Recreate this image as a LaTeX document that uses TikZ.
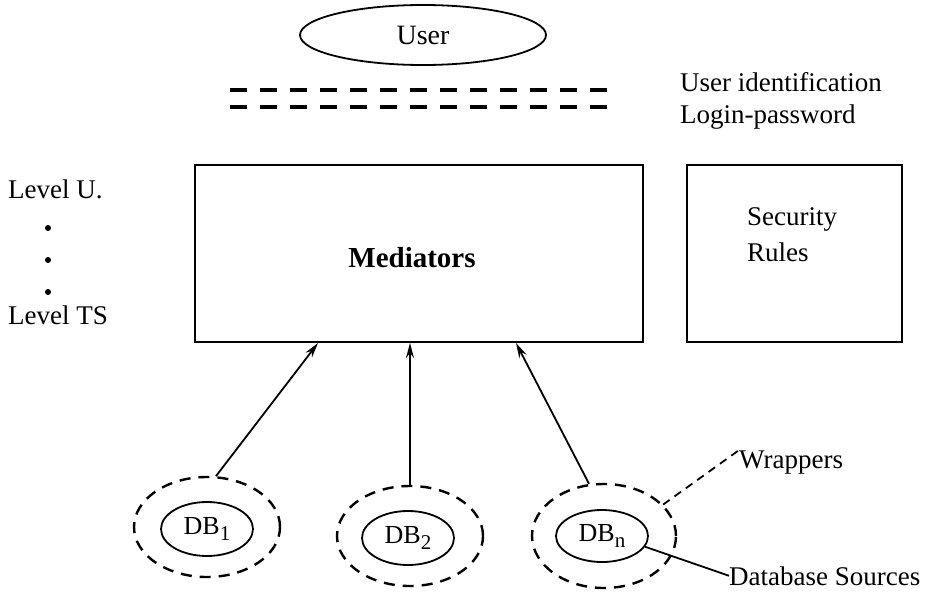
\documentclass[tikz,border=0pt]{standalone}
\usepackage{fontspec}
\setmainfont{Liberation Serif}
\usetikzlibrary{shapes.geometric,arrows.meta,calc}
\newcommand{\dbsub}[1]{\raisebox{-6pt}{\fontsize{21}{21}\selectfont #1}}
\tikzset{
  txt/.style={inner sep=0pt, anchor=base west, font=\fontsize{27}{32}\selectfont},
  box/.style={draw, line width=2pt, rectangle, inner sep=0pt},
  wrapper/.style={draw, ellipse, dash pattern=on 11pt off 8pt, line width=2.4pt, inner sep=0pt, minimum width=146pt, minimum height=100pt},
  dbsrc/.style={draw, ellipse, line width=1.8pt, inner sep=0pt, minimum width=92pt, minimum height=54pt, font=\fontsize{26}{30}\selectfont},
  arr/.style={line width=1.8pt, -{Stealth[length=15pt,width=8pt]}},
  lnk/.style={line width=1.8pt},
  dots/.style={circle, fill, inner sep=0pt, minimum size=6pt},
  dbl/.style={line width=4pt, dash pattern=on 17pt off 13pt}
}
\begin{document}
\begin{tikzpicture}[x=1pt,y=-1pt]
\useasboundingbox (0,0) rectangle (933,591);
% User
\node[draw, ellipse, line width=1.8pt, inner sep=0pt, minimum width=246pt, minimum height=60pt, font=\fontsize{28}{32}\selectfont] (user) at (423,35) {User};
% double dashed line
\coordinate (l1a) at (230,90); \coordinate (l1b) at (607,90);
\coordinate (l2a) at (230,107); \coordinate (l2b) at (607,107);
\draw[dbl] (l1a) -- (l1b);
\draw[dbl] (l2a) -- (l2b);
\node[txt] (uid) at (680,92) {User identification};
\node[txt] (lp) at (680,123) {Login-password};
% boxes
\node[box, minimum width=448pt, minimum height=177pt] (med) at (419,253.5) {};
\node[inner sep=0pt, font=\fontsize{29}{34}\selectfont\bfseries] (medt) at (412,258) {Mediators};
\node[box, minimum width=215pt, minimum height=177pt] (sec) at (794.5,253.5) {};
\node[txt] (sect) at (747,225) {Security};
\node[txt] (rult) at (747,261) {Rules};
% levels
\node[txt] (lu) at (8,198) {Level U.};
\node[dots] (d1) at (48,228) {};
\node[dots] (d2) at (48,260) {};
\node[dots] (d3) at (48,292) {};
\node[txt] (lts) at (8,324) {Level TS};
% wrappers and sources
\node[wrapper] (w1) at (207,527) {};
\node[dbsrc] (s1) at (207,529) {DB\dbsub{1}};
\node[wrapper] (w2) at (410,536) {};
\node[dbsrc] (s2) at (408,538) {DB\dbsub{2}};
\node[wrapper, minimum width=144pt, minimum height=104pt] (w3) at (604,536) {};
\node[dbsrc, minimum height=52pt] (s3) at (602,536) {DB\dbsub{n}};
% arrows
\draw[arr] (w1.80) -- ($(med.south west)+(124,0)$);
\draw[arr] (w2.north) -- (w2.north |- med.south);
\draw[arr] (w3.106) -- ($(med.south west)+(322,0)$);
% labels
\node[txt] (wr) at (739,468) {Wrappers};
\node[txt] (dbs) at (729,585) {Database Sources};
\draw[lnk, dash pattern=on 8pt off 6pt] (w3.28) -- (wr.north west);
\draw[lnk] (s3.-14) -- (dbs.west);
\end{tikzpicture}
\end{document}
